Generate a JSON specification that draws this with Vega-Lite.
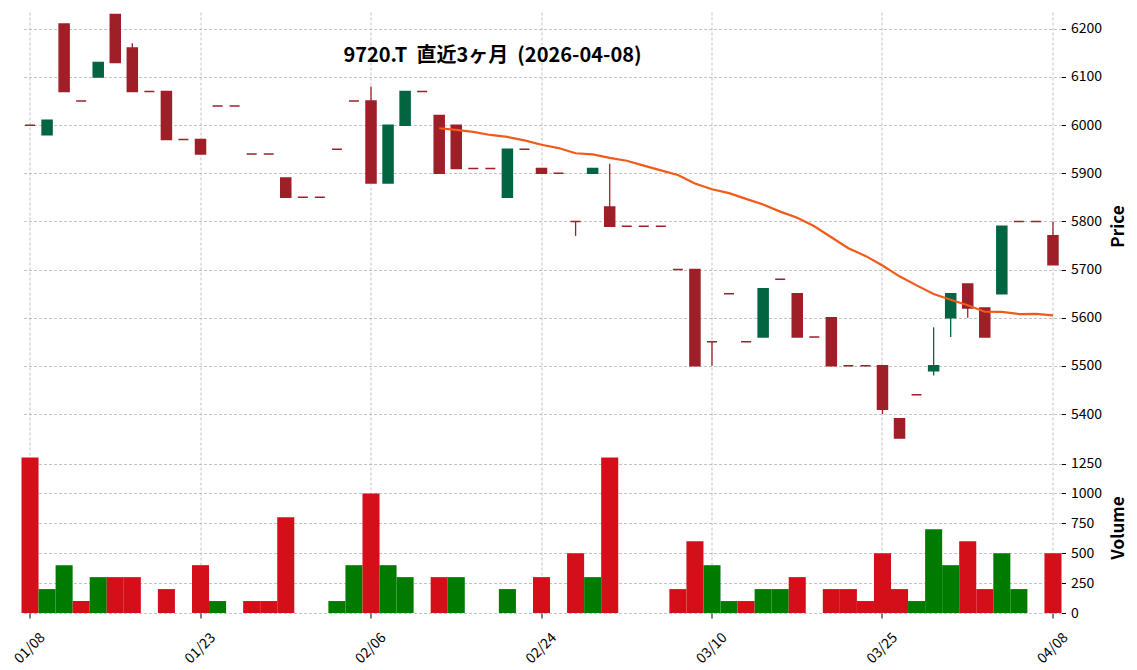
{
  "$schema": "https://vega.github.io/schema/vega-lite/v6.json",
  "padding": {"left": 11.5, "top": 12, "right": 5, "bottom": 5},
  "autosize": {"type": "pad"},
  "background": "white",
  "config": {
    "view": {"stroke": null},
    "font": "Noto Sans CJK JP",
    "axis": {
      "labelFont": "Noto Sans CJK JP",
      "labelFontSize": 14,
      "labelColor": "#000000",
      "titleFont": "Noto Sans CJK JP",
      "titleColor": "#000000",
      "gridColor": "#b4b4b4",
      "gridDash": [3, 2],
      "gridWidth": 0.8,
      "tickColor": "#000000",
      "tickSize": 4,
      "domain": false
    }
  },
  "data": {
    "values": [
      {"date": "01/08", "open": 6000, "high": 6000, "low": 6000, "close": 6000, "volume": 1300, "ma": null},
      {"date": "01/09", "open": 5980, "high": 6010, "low": 5980, "close": 6010, "volume": 200, "ma": null},
      {"date": "01/13", "open": 6210, "high": 6210, "low": 6070, "close": 6070, "volume": 400, "ma": null},
      {"date": "01/14", "open": 6050, "high": 6050, "low": 6050, "close": 6050, "volume": 100, "ma": null},
      {"date": "01/15", "open": 6100, "high": 6130, "low": 6100, "close": 6130, "volume": 300, "ma": null},
      {"date": "01/16", "open": 6230, "high": 6230, "low": 6130, "close": 6130, "volume": 300, "ma": null},
      {"date": "01/19", "open": 6160, "high": 6170, "low": 6070, "close": 6070, "volume": 300, "ma": null},
      {"date": "01/20", "open": 6070, "high": 6070, "low": 6070, "close": 6070, "volume": 0, "ma": null},
      {"date": "01/21", "open": 6070, "high": 6070, "low": 5970, "close": 5970, "volume": 200, "ma": null},
      {"date": "01/22", "open": 5970, "high": 5970, "low": 5970, "close": 5970, "volume": 0, "ma": null},
      {"date": "01/23", "open": 5970, "high": 5970, "low": 5940, "close": 5940, "volume": 400, "ma": null},
      {"date": "01/26", "open": 6040, "high": 6040, "low": 6040, "close": 6040, "volume": 100, "ma": null},
      {"date": "01/27", "open": 6040, "high": 6040, "low": 6040, "close": 6040, "volume": 0, "ma": null},
      {"date": "01/28", "open": 5940, "high": 5940, "low": 5940, "close": 5940, "volume": 100, "ma": null},
      {"date": "01/29", "open": 5940, "high": 5940, "low": 5940, "close": 5940, "volume": 100, "ma": null},
      {"date": "01/30", "open": 5890, "high": 5890, "low": 5850, "close": 5850, "volume": 800, "ma": null},
      {"date": "02/02", "open": 5850, "high": 5850, "low": 5850, "close": 5850, "volume": 0, "ma": null},
      {"date": "02/03", "open": 5850, "high": 5850, "low": 5850, "close": 5850, "volume": 0, "ma": null},
      {"date": "02/04", "open": 5950, "high": 5950, "low": 5950, "close": 5950, "volume": 100, "ma": null},
      {"date": "02/05", "open": 6050, "high": 6050, "low": 6050, "close": 6050, "volume": 400, "ma": null},
      {"date": "02/06", "open": 6050, "high": 6080, "low": 5880, "close": 5880, "volume": 1000, "ma": null},
      {"date": "02/09", "open": 5880, "high": 6000, "low": 5880, "close": 6000, "volume": 400, "ma": null},
      {"date": "02/10", "open": 6000, "high": 6070, "low": 6000, "close": 6070, "volume": 300, "ma": null},
      {"date": "02/12", "open": 6070, "high": 6070, "low": 6070, "close": 6070, "volume": 0, "ma": null},
      {"date": "02/13", "open": 6020, "high": 6020, "low": 5900, "close": 5900, "volume": 300, "ma": 5993.6},
      {"date": "02/16", "open": 6000, "high": 6000, "low": 5910, "close": 5910, "volume": 300, "ma": 5990.0},
      {"date": "02/17", "open": 5910, "high": 5910, "low": 5910, "close": 5910, "volume": 0, "ma": 5986.0},
      {"date": "02/18", "open": 5910, "high": 5910, "low": 5910, "close": 5910, "volume": 0, "ma": 5979.6},
      {"date": "02/19", "open": 5850, "high": 5950, "low": 5850, "close": 5950, "volume": 200, "ma": 5975.6},
      {"date": "02/20", "open": 5950, "high": 5950, "low": 5950, "close": 5950, "volume": 0, "ma": 5968.4},
      {"date": "02/24", "open": 5910, "high": 5910, "low": 5900, "close": 5900, "volume": 300, "ma": 5959.2},
      {"date": "02/25", "open": 5900, "high": 5900, "low": 5900, "close": 5900, "volume": 0, "ma": 5952.4},
      {"date": "02/26", "open": 5800, "high": 5800, "low": 5770, "close": 5800, "volume": 500, "ma": 5941.6},
      {"date": "02/27", "open": 5900, "high": 5910, "low": 5900, "close": 5910, "volume": 300, "ma": 5939.2},
      {"date": "03/02", "open": 5830, "high": 5920, "low": 5790, "close": 5790, "volume": 1300, "ma": 5932.0},
      {"date": "03/03", "open": 5790, "high": 5790, "low": 5790, "close": 5790, "volume": 0, "ma": 5926.0},
      {"date": "03/04", "open": 5790, "high": 5790, "low": 5790, "close": 5790, "volume": 0, "ma": 5916.0},
      {"date": "03/05", "open": 5790, "high": 5790, "low": 5790, "close": 5790, "volume": 0, "ma": 5906.0},
      {"date": "03/06", "open": 5700, "high": 5700, "low": 5700, "close": 5700, "volume": 200, "ma": 5896.4},
      {"date": "03/09", "open": 5700, "high": 5700, "low": 5500, "close": 5500, "volume": 600, "ma": 5878.8},
      {"date": "03/10", "open": 5550, "high": 5550, "low": 5500, "close": 5550, "volume": 400, "ma": 5866.8},
      {"date": "03/11", "open": 5650, "high": 5650, "low": 5650, "close": 5650, "volume": 100, "ma": 5858.8},
      {"date": "03/12", "open": 5550, "high": 5550, "low": 5550, "close": 5550, "volume": 100, "ma": 5846.8},
      {"date": "03/13", "open": 5560, "high": 5660, "low": 5560, "close": 5660, "volume": 200, "ma": 5835.2},
      {"date": "03/16", "open": 5680, "high": 5680, "low": 5680, "close": 5680, "volume": 200, "ma": 5820.4},
      {"date": "03/17", "open": 5650, "high": 5650, "low": 5560, "close": 5560, "volume": 300, "ma": 5807.6},
      {"date": "03/18", "open": 5560, "high": 5560, "low": 5560, "close": 5560, "volume": 0, "ma": 5790.0},
      {"date": "03/19", "open": 5600, "high": 5600, "low": 5500, "close": 5500, "volume": 200, "ma": 5767.2},
      {"date": "03/23", "open": 5500, "high": 5500, "low": 5500, "close": 5500, "volume": 200, "ma": 5744.4},
      {"date": "03/24", "open": 5500, "high": 5500, "low": 5500, "close": 5500, "volume": 100, "ma": 5728.4},
      {"date": "03/25", "open": 5500, "high": 5500, "low": 5400, "close": 5410, "volume": 500, "ma": 5708.4},
      {"date": "03/26", "open": 5390, "high": 5390, "low": 5350, "close": 5350, "volume": 200, "ma": 5686.0},
      {"date": "03/27", "open": 5440, "high": 5440, "low": 5440, "close": 5440, "volume": 100, "ma": 5667.2},
      {"date": "03/30", "open": 5490, "high": 5580, "low": 5480, "close": 5500, "volume": 700, "ma": 5649.2},
      {"date": "03/31", "open": 5600, "high": 5650, "low": 5560, "close": 5650, "volume": 400, "ma": 5637.2},
      {"date": "04/01", "open": 5670, "high": 5670, "low": 5600, "close": 5620, "volume": 600, "ma": 5626.0},
      {"date": "04/02", "open": 5620, "high": 5620, "low": 5560, "close": 5560, "volume": 200, "ma": 5612.4},
      {"date": "04/03", "open": 5650, "high": 5790, "low": 5650, "close": 5790, "volume": 500, "ma": 5612.0},
      {"date": "04/06", "open": 5800, "high": 5800, "low": 5800, "close": 5800, "volume": 200, "ma": 5607.6},
      {"date": "04/07", "open": 5800, "high": 5800, "low": 5800, "close": 5800, "volume": 0, "ma": 5608.0},
      {"date": "04/08", "open": 5770, "high": 5800, "low": 5710, "close": 5710, "volume": 500, "ma": 5604.8}
    ]
  },
  "spacing": 2,
  "vconcat": [
    {
      "width": 1040,
      "height": 428,
      "title": {
        "text": "9720.T\u00a0 直近3ヶ月\u00a0 (2026-04-08)",
        "font": "Noto Sans CJK JP",
        "fontSize": 20,
        "fontWeight": "bold",
        "color": "#000000",
        "anchor": "middle",
        "offset": -54,
        "dx": -49
      },
      "encoding": {
        "x": {
          "field": "date",
          "type": "ordinal",
          "sort": null,
          "scale": {"paddingInner": 0, "paddingOuter": 0},
          "axis": {
            "values": ["01/08", "01/23", "02/06", "02/24", "03/10", "03/25", "04/08"],
            "labels": false,
            "ticks": false,
            "title": null,
            "grid": true
          }
        }
      },
      "layer": [
        {
          "mark": {"type": "rule", "strokeWidth": 1.3},
          "encoding": {
            "y": {
              "field": "low",
              "type": "quantitative",
              "scale": {"domain": [5346, 6235], "zero": false, "nice": false},
              "axis": {
                "orient": "right",
                "values": [5400, 5500, 5600, 5700, 5800, 5900, 6000, 6100, 6200],
                "format": "d",
                "title": "Price",
                "titleFontSize": 17,
                "titleFontWeight": "bold",
                "titleAngle": 270,
                "titlePadding": 26,
                "labelPadding": 5,
                "grid": true
              }
            },
            "y2": {"field": "high"},
            "color": {"condition": {"test": "datum.close > datum.open", "value": "#006540"}, "value": "#9f1f28"}
          }
        },
        {
          "mark": {"type": "bar", "size": 10, "strokeWidth": 1.5},
          "encoding": {
            "y": {"field": "open", "type": "quantitative"},
            "y2": {"field": "close"},
            "color": {"condition": {"test": "datum.close > datum.open", "value": "#006540"}, "value": "#9f1f28"},
            "stroke": {"condition": {"test": "datum.close > datum.open", "value": "#006540"}, "value": "#9f1f28"}
          }
        },
        {
          "mark": {"type": "line", "color": "#f05a1a", "strokeWidth": 2.2},
          "encoding": {
            "y": {"field": "ma", "type": "quantitative"}
          }
        }
      ]
    },
    {
      "width": 1040,
      "height": 171,
      "transform": [
        {"window": [{"op": "lag", "field": "close", "as": "prev"}], "sort": [{"field": "date"}]}
      ],
      "mark": {"type": "bar"},
      "encoding": {
        "x": {
          "field": "date",
          "type": "ordinal",
          "sort": null,
          "scale": {"paddingInner": 0, "paddingOuter": 0},
          "axis": {
            "values": ["01/08", "01/23", "02/06", "02/24", "03/10", "03/25", "04/08"],
            "labelAngle": -45,
            "labelAlign": "center",
            "labelBaseline": "middle",
            "labelPadding": 30,
            "labelOverlap": false,
            "labelFontSize": 14,
            "tickSize": 5,
            "title": null,
            "grid": true
          }
        },
        "y": {
          "field": "volume",
          "type": "quantitative",
          "scale": {"domain": [0, 1430], "nice": false},
          "axis": {
            "orient": "right",
            "values": [0, 250, 500, 750, 1000, 1250],
            "format": "d",
            "title": "Volume",
            "titleFontSize": 17,
            "titleFontWeight": "bold",
            "titleAngle": 270,
            "titlePadding": 26,
            "labelPadding": 5,
            "grid": true
          }
        },
        "color": {"condition": {"test": "datum.prev != null && datum.close > datum.prev", "value": "#007b00"}, "value": "#d50f1a"}
      }
    }
  ]
}
